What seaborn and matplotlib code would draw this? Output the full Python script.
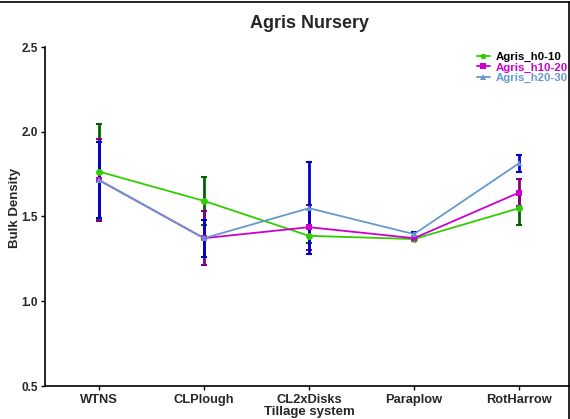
import numpy as np
import pandas as pd
import matplotlib
matplotlib.use("Agg")
import matplotlib.pyplot as plt
import seaborn as sns
from matplotlib.lines import Line2D

systems = ["WTNS", "CLPlough", "CL2xDisks", "Paraplow", "RotHarrow"]
series_names = ["Agris_h0-10", "Agris_h10-20", "Agris_h20-30"]
h0_10 = [1.765, 1.592, 1.386, 1.367, 1.549]
h0_10_err = [0.28, 0.14, 0.04, 0.01, 0.10]
h10_20 = [1.715, 1.372, 1.437, 1.372, 1.641]
h10_20_err = [0.24, 0.16, 0.133, 0.01, 0.08]
h20_30 = [1.715, 1.372, 1.549, 1.396, 1.814]
h20_30_err = [0.225, 0.11, 0.27, 0.015, 0.05]

line_colors = ["#33CC00", "#CC00CC", "#6699CC"]
err_colors = ["#006400", "#800080", "#0000CC"]
markers = ["o", "s", "^"]

sns.set_theme(style="white")
plt.rcParams["font.family"] = ["Liberation Sans", "DejaVu Sans"]
plt.rcParams["font.weight"] = "bold"

df = pd.DataFrame({
    "system": systems * 3,
    "bd": h0_10 + h10_20 + h20_30,
    "series": sum([[s] * len(systems) for s in series_names], []),
})

fig = plt.figure(figsize=(5.70, 4.19), dpi=100)
W, H = 570, 419
ax = fig.add_axes([45 / W, 1 - 386 / H, 528 / W, (386 - 47) / H])

vals = [h0_10, h10_20, h20_30]
errs = [h0_10_err, h10_20_err, h20_30_err]
xpos = np.arange(len(systems))
for i in range(3):
    ax.errorbar(xpos, vals[i], yerr=errs[i], fmt="none", ecolor=err_colors[i],
                elinewidth=2, capsize=2.2, capthick=1.5, zorder=2 + i)

sns.lineplot(data=df, x="system", y="bd", hue="series", style="series",
             palette=line_colors, markers=markers, dashes=False, ax=ax,
             linewidth=1.3, markersize=5, markeredgewidth=0, legend=False,
             zorder=6)

ax.set_xlim(-0.514, 4.514)
ax.set_ylim(0.5, 2.5)
ax.set_yticks([0.5, 1.0, 1.5, 2.0, 2.5])
ax.set_yticklabels(["0.5", "1.0", "1.5", "2.0", "2.5"])
ax.set_xticks(xpos)
ax.set_xticklabels(systems)
for s in ["top", "right"]:
    ax.spines[s].set_visible(False)
for s in ["left", "bottom"]:
    ax.spines[s].set_color("black")
    ax.spines[s].set_linewidth(1.2)
ax.tick_params(axis="both", direction="out", length=3, width=1, color="black",
               labelsize=8.5, pad=2, left=True, bottom=True)
ax.tick_params(axis="x", pad=3, labelsize=9.3)
for lab in ax.get_xticklabels() + ax.get_yticklabels():
    lab.set_fontweight("bold")
ax.set_xlabel("Tillage system", fontsize=9.5, fontweight="bold")
ax.xaxis.set_label_coords(0.5, -(406 - 386) / 339, transform=ax.transAxes)
ax.xaxis.label.set_va("top")
ax.set_ylabel("Bulk Density", fontsize=9.5, fontweight="bold")
ax.yaxis.set_label_coords((21 - 45) / 528, (386 - 208) / 339)
ax.set_title("Agris Nursery", fontsize=13, fontweight="bold", pad=14)

handles = [Line2D([0], [0], color=line_colors[i], marker=markers[i], markersize=4,
                  linewidth=1.3, markeredgewidth=0) for i in range(3)]
leg = fig.legend(handles, series_names, loc="upper left",
                 bbox_to_anchor=(477 / W, 1 - 52 / H), frameon=False,
                 handlelength=1.1, handletextpad=0.5,
                 labelspacing=0.03, borderaxespad=0, borderpad=0,
                 labelcolor=["black", "#CC00CC", "#6699CC"],
                 prop={"weight": "bold", "size": 8.2})

fig.add_artist(Line2D([0, 1], [1 - 2 / H, 1 - 2 / H], color="black", linewidth=1.2,
                      transform=fig.transFigure))
fig.add_artist(Line2D([1 - 1.5 / W, 1 - 1.5 / W], [0, 1 - 2 / H], color="black",
                      linewidth=1.2, transform=fig.transFigure))

fig.savefig("out.png", dpi=100)
